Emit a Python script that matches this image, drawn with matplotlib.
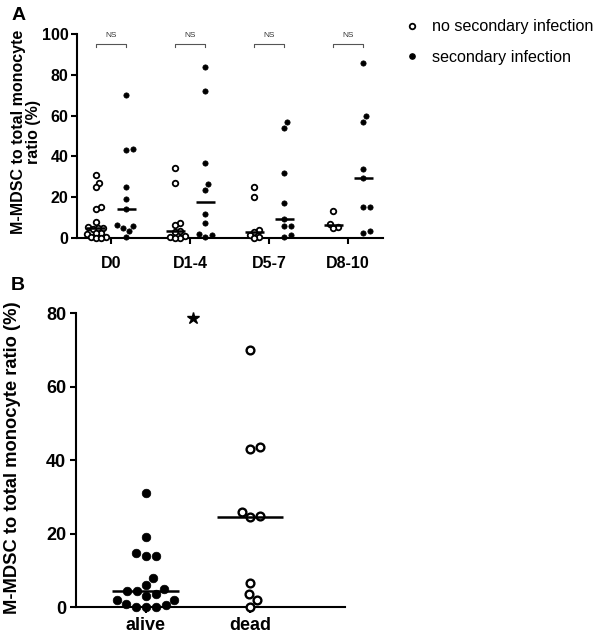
import numpy as np
import matplotlib
matplotlib.use("Agg")
import matplotlib.pyplot as plt
from matplotlib.lines import Line2D

plt.rcParams['font.family'] = ['Liberation Sans', 'DejaVu Sans']

# ---------------- data ----------------
days = ['D0', 'D1-4', 'D5-7', 'D8-10']
no_secondary = [
    [31, 27, 25, 15, 14, 8, 5.5, 5, 5, 4.5, 2.5, 2.5, 2, 0.5, 0.5, 0, 0],
    [34.5, 27, 7.5, 6.5, 3.5, 3, 1, 0.5, 0, 0],
    [25, 20, 4, 3, 1.5, 0.5, 0],
    [13, 7, 5.5, 5],
]
secondary = [
    [70, 43, 43.5, 25, 19, 14, 6.5, 6, 5, 3.5, 0.5],
    [84, 72, 37, 26.5, 23.5, 12, 7.5, 2, 1.5, 0.5],
    [57, 54, 32, 17, 9.5, 6, 6, 1.5, 0.5],
    [86, 60, 57, 34, 29.5, 15, 15, 3.5, 2.5],
]
ns_labels = ['NS', 'NS', 'NS', 'NS']

outcomes = ['alive', 'dead']
alive = [31, 19, 14.8, 14, 14, 8, 6, 5, 4.5, 4.5, 3.5, 3, 2, 2, 1, 0.5, 0, 0, 0]
dead = [70, 43.5, 43, 26, 24.8, 24.5, 6.5, 3.5, 2, 0]

legend_labels = ['no secondary infection', 'secondary infection']
ylabel = 'M-MDSC to total monocyte ratio (%)'


def swarm(vals, px_per_x, px_per_y, diam):
    """Simple beeswarm: returns x offsets (data units) so markers don't overlap."""
    vals = np.asarray(vals, float)
    order = np.argsort(vals)
    placed = []
    offs = np.zeros(len(vals))
    cands = np.arange(0, 300, 0.5)
    for i in order:
        y = vals[i] * px_per_y
        chosen = None
        for c in cands:
            for s in ((c, -c) if c else (0.0,)):
                if all((s - px) ** 2 + (y - py) ** 2 >= diam ** 2 for px, py in placed):
                    chosen = s
                    break
            if chosen is not None:
                break
        placed.append((chosen, y))
        offs[i] = chosen / px_per_x
    return offs


fig = plt.figure(figsize=(5.98, 6.41), dpi=100)

# ---------------- Panel A ----------------
axA = fig.add_axes([77 / 598, 1 - 238 / 641, 306 / 598, 204 / 641])
pxA_x = 306 / 3.87
pxA_y = 204 / 100
grp_off = 0.19
for i, d in enumerate(days):
    for vals, sgn, filled in ((no_secondary[i], -1, False), (secondary[i], 1, True)):
        c = i + sgn * grp_off
        if filled:
            xo = swarm(vals, pxA_x, pxA_y, 6.5)
            axA.plot(c + xo, vals, 'o', ms=3.8, mfc='black', mec='black', mew=0.5,
                     clip_on=False, zorder=3)
        else:
            xo = swarm(vals, pxA_x, pxA_y, 5.0)
            axA.plot(c + xo, vals, 'o', ms=4.0, mfc='white', mec='black', mew=1.3,
                     clip_on=False, zorder=3)
        m = np.median(vals)
        axA.plot([c - 0.12, c + 0.12], [m, m], color='black', lw=1.8, zorder=4,
                 solid_capstyle='butt', clip_on=False)
    # NS bracket
    x0, x1 = i - grp_off, i + grp_off
    axA.plot([x0, x0, x1, x1], [93.6, 95.0, 95.0, 93.6], color='#555555', lw=0.8,
             clip_on=False)
    axA.text(i, 99.5, ns_labels[i], ha='center', va='center', fontsize=6,
             color='#333333')

axA.set_xlim(-0.43, 3.44)
axA.set_ylim(0, 100)
axA.set_yticks([0, 20, 40, 60, 80, 100])
axA.set_xticks(range(len(days)))
axA.set_xticklabels(days)
axA.set_ylabel('M-MDSC to total monocyte\nratio (%)', fontsize=11.5, fontweight='bold',
               linespacing=1.0)
axA.yaxis.set_label_coords(-0.118, 0.52)
for s in ['top', 'right']:
    axA.spines[s].set_visible(False)
for s in ['left', 'bottom']:
    axA.spines[s].set_linewidth(1.5)
axA.tick_params(width=1.5, length=4, labelsize=11.5)
axA.tick_params(axis='x', pad=9)
axA.tick_params(axis='y', pad=2)
for lab in axA.get_xticklabels() + axA.get_yticklabels():
    lab.set_fontweight('bold')
fig.text(12 / 598, 1 - 15 / 641, 'A', fontsize=14, fontweight='bold', va='center')

# legend
handles = [Line2D([], [], ls='none', marker='o', ms=4.0, mfc='white', mec='black', mew=1.3),
           Line2D([], [], ls='none', marker='o', ms=3.8, mfc='black', mec='black')]
fig.legend(handles, legend_labels, loc='upper left',
           bbox_to_anchor=(389 / 598, 1 - 5 / 641), frameon=False, fontsize=11.6,
           labelspacing=0.95, handletextpad=0.75, handlelength=1.0)

# ---------------- Panel B ----------------
axB = fig.add_axes([76 / 598, 1 - 607.3 / 641, 269 / 598, 294 / 641])
pxB_x = 269 / 2.58
pxB_y = 294 / 80
for j, (vals, filled) in enumerate(((alive, True), (dead, False))):
    xo = swarm(vals, pxB_x, pxB_y, 10.0)
    if filled:
        axB.plot(j + xo, vals, 'o', ms=6.2, mfc='black', mec='black', mew=0.5,
                 clip_on=False, zorder=3)
    else:
        axB.plot(j + xo, vals, 'o', ms=5.6, mfc='white', mec='black', mew=1.7,
                 clip_on=False, zorder=3)
    m = np.median(vals)
    axB.plot([j - 0.32, j + 0.32], [m, m], color='black', lw=1.8, zorder=4,
             solid_capstyle='butt', clip_on=False)
axB.plot([0.45], [78.8], marker='*', ms=9, color='black', ls='none', clip_on=False)

axB.set_xlim(-0.67, 1.91)
axB.set_ylim(0, 80)
axB.set_yticks([0, 20, 40, 60, 80])
axB.set_xticks(range(len(outcomes)))
axB.set_xticklabels(outcomes)
axB.set_ylabel(ylabel, fontsize=13.2, fontweight='bold')
axB.yaxis.set_label_coords(-0.2045, 0.51)
for s in ['top', 'right']:
    axB.spines[s].set_visible(False)
for s in ['left', 'bottom']:
    axB.spines[s].set_linewidth(1.5)
axB.tick_params(width=1.5, length=4, labelsize=13)
axB.tick_params(axis='x', pad=3)
axB.tick_params(axis='y', pad=3)
for lab in axB.get_xticklabels() + axB.get_yticklabels():
    lab.set_fontweight('bold')
fig.text(11 / 598, 1 - 286 / 641, 'B', fontsize=14, fontweight='bold', va='center')

fig.savefig('out.png', dpi=100)
